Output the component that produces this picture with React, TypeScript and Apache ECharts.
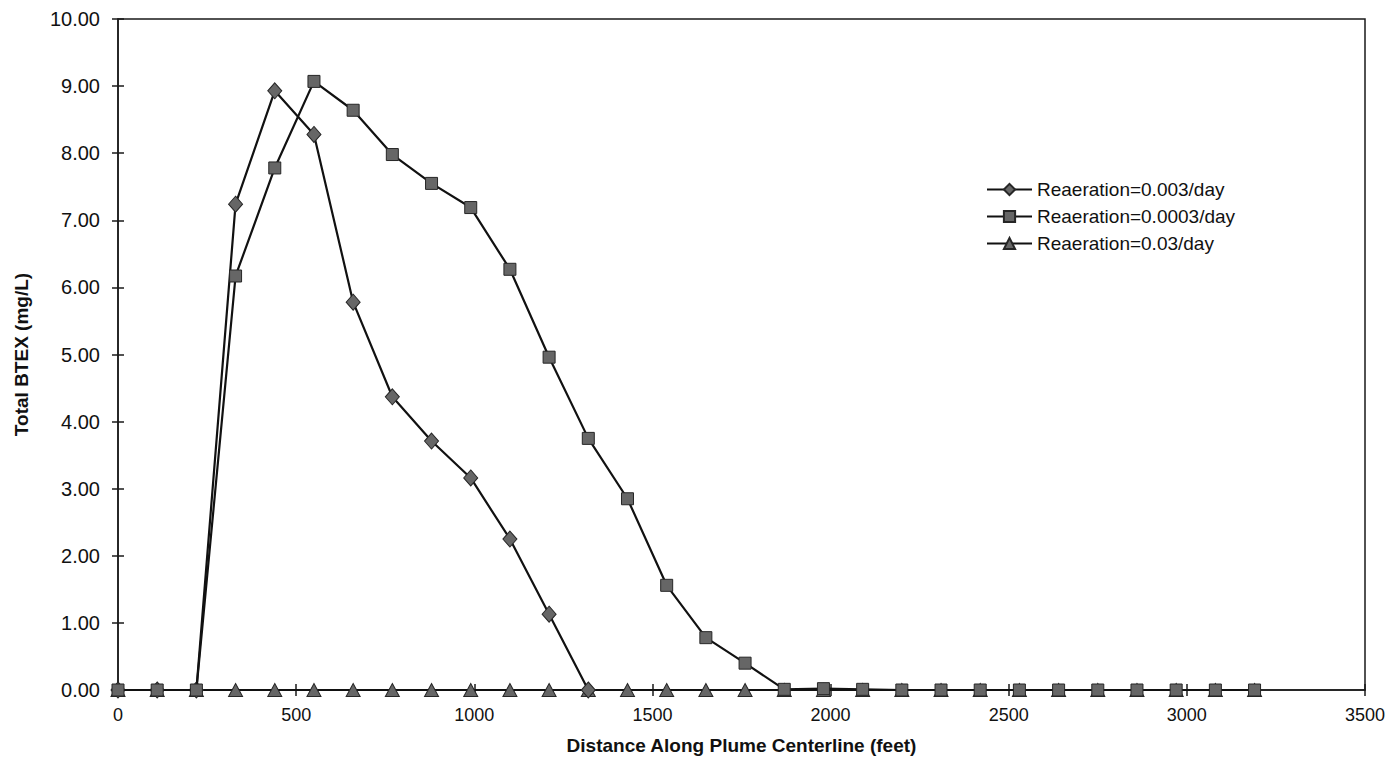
import React, { useEffect, useRef } from "react";
import * as echarts from "echarts";

const distances = [0, 110, 220, 330, 440, 550, 660, 770, 880, 990, 1100, 1210, 1320, 1430, 1540, 1650, 1760, 1870, 1980, 2090, 2200, 2310, 2420, 2530, 2640, 2750, 2860, 2970, 3080, 3190];
const reaeration003 = [0, 0, 0, 7.24, 8.93, 8.28, 5.78, 4.37, 3.71, 3.16, 2.25, 1.13, 0];
const reaeration0003 = [0, 0, 0, 6.17, 7.78, 9.07, 8.64, 7.98, 7.55, 7.19, 6.27, 4.96, 3.75, 2.85, 1.56, 0.78, 0.4, 0.01, 0.02, 0.01, 0, 0, 0, 0, 0, 0, 0, 0, 0, 0];
const reaeration03 = [0, 0, 0, 0, 0, 0, 0, 0, 0, 0, 0, 0, 0, 0, 0, 0, 0, 0, 0, 0, 0, 0, 0, 0, 0, 0, 0, 0, 0, 0];
const seriesNames = ["Reaeration=0.003/day", "Reaeration=0.0003/day", "Reaeration=0.03/day"];
const xTitle = "Distance Along Plume Centerline (feet)";
const yTitle = "Total BTEX (mg/L)";

const FONT = "'Liberation Sans', Arial, sans-serif";

function pairs(vals: number[]) {
  return vals.map((v, i) => [distances[i], v]);
}

export default function App() {
  const ref = useRef<HTMLDivElement>(null);
  useEffect(() => {
    if (!ref.current) return;
    const chart = echarts.init(ref.current, null, { renderer: "svg" });
    const lineStyle = { color: "#111111", width: 2.2 };
    const itemStyle = { color: "#666666", borderColor: "#262626", borderWidth: 1 };
    chart.setOption({
      animation: false,
      backgroundColor: "#ffffff",
      textStyle: { fontFamily: FONT },
      grid: {
        left: 118,
        right: 30,
        top: 19,
        bottom: 70,
        show: true,
        borderColor: "#1a1a1a",
        borderWidth: 1.5,
        backgroundColor: "transparent",
      },
      legend: {
        orient: "vertical",
        left: 981,
        top: 175,
        itemWidth: 45,
        itemHeight: 14,
        itemGap: 8,
        data: seriesNames,
        textStyle: { fontSize: 19, color: "#111", fontFamily: FONT },
      },
      xAxis: [
        {
          type: "value",
          min: 0,
          max: 3500,
          interval: 500,
          name: xTitle,
          nameLocation: "middle",
          nameGap: 46,
          nameTextStyle: { fontSize: 19, fontWeight: "bold", color: "#111", fontFamily: FONT },
          axisLine: { show: true, lineStyle: { color: "#1a1a1a", width: 1.5 } },
          axisTick: { show: true, inside: false, length: 6, lineStyle: { color: "#1a1a1a", width: 1.5 } },
          axisLabel: { fontSize: 18, color: "#111", margin: 16, fontFamily: FONT, formatter: (v: number) => String(v) },
          splitLine: { show: false },
        },
        {
          type: "value",
          min: 0,
          max: 3500,
          interval: 500,
          position: "bottom",
          offset: 0,
          axisLine: { show: false },
          axisTick: { show: true, inside: true, length: 6, lineStyle: { color: "#1a1a1a", width: 1.5 } },
          axisLabel: { show: false },
          splitLine: { show: false },
        },
      ],
      yAxis: [
        {
          type: "value",
          min: 0,
          max: 10,
          interval: 1,
          name: yTitle,
          nameLocation: "middle",
          nameGap: 87,
          nameTextStyle: { fontSize: 19, fontWeight: "bold", color: "#111", fontFamily: FONT },
          axisLine: { show: true, lineStyle: { color: "#1a1a1a", width: 1.5 } },
          axisTick: { show: true, inside: false, length: 6, lineStyle: { color: "#1a1a1a", width: 1.5 } },
          axisLabel: { fontSize: 20, color: "#111", margin: 18, fontFamily: FONT, formatter: (v: number) => v.toFixed(2) },
          splitLine: { show: false },
        },
        {
          type: "value",
          min: 0,
          max: 10,
          interval: 1,
          position: "left",
          offset: 0,
          axisLine: { show: false },
          axisTick: { show: true, inside: true, length: 6, lineStyle: { color: "#1a1a1a", width: 1.5 } },
          axisLabel: { show: false },
          splitLine: { show: false },
        },
      ],
      series: [
        {
          name: seriesNames[0],
          type: "line",
          z: 3,
          data: pairs(reaeration003),
          symbol: "diamond",
          symbolSize: [14, 16],
          lineStyle,
          itemStyle,
        },
        {
          name: seriesNames[1],
          type: "line",
          z: 4,
          data: pairs(reaeration0003),
          symbol: "rect",
          symbolSize: 12,
          lineStyle,
          itemStyle,
        },
        {
          name: seriesNames[2],
          type: "line",
          z: 2,
          data: pairs(reaeration03),
          symbol: "triangle",
          symbolSize: [14, 13],
          lineStyle,
          itemStyle,
        },
      ],
    });
    return () => chart.dispose();
  }, []);
  return (
    <div
      ref={ref}
      style={{ position: "fixed", left: 0, top: 0, width: 1395, height: 760, background: "#fff" }}
    />
  );
}
